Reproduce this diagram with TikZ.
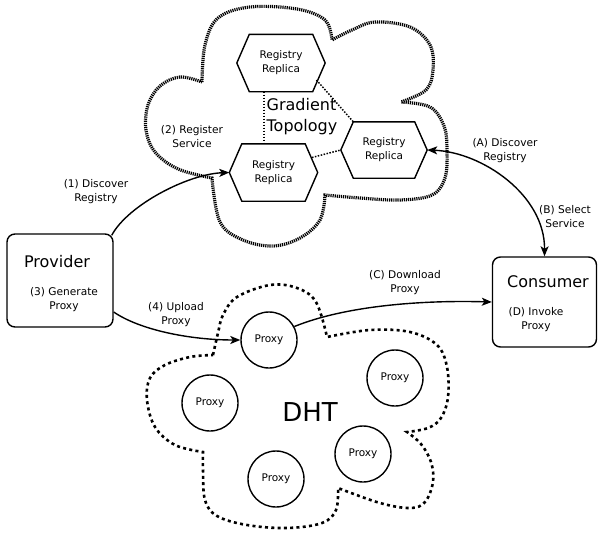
\documentclass[tikz,border=0pt]{standalone}
\usepackage{fontspec}
\setmainfont{DejaVu Sans}
\usetikzlibrary{arrows.meta,calc}
\begin{document}
\begin{tikzpicture}[x=1pt,y=-1pt,
  >={Stealth[length=10pt,width=8pt,inset=2.5pt]},
  lbl/.style={align=center, font=\fontsize{10.6}{14}\selectfont, inner sep=0},
  big/.style={align=left, font=\fontsize{16}{21}\selectfont, inner sep=0},
  box/.style={draw, line width=1.4pt, rounded corners=8pt, minimum width=106pt, minimum height=93pt, inner sep=0},
  hexbox/.style={minimum width=88pt, minimum height=57pt, inner sep=0, align=center, font=\fontsize{10.5}{14}\selectfont},
  hexline/.style={line width=1.4pt, line join=miter},
  proxy/.style={draw, circle, line width=1.4pt, minimum size=56pt, inner sep=0, font=\fontsize{10.5}{13}\selectfont},
  arr/.style={line width=1.4pt},
  dotl/.style={line width=1.5pt, dash pattern=on 1.5pt off 1.5pt},
  gcloud/.style={line width=3.2pt, dash pattern=on 1.2pt off 0.9pt},
  dcloud/.style={line width=2.6pt, dash pattern=on 3pt off 3.3pt},
]
\useasboundingbox (0,0) rectangle (598,533);

% Gradient topology cloud
\draw[gcloud] plot[smooth, tension=0.6] coordinates {(202,82) (205,45) (218,18) (250,7) (297,9) (325,20) (332,40)}
 -- plot[smooth, tension=0.6] coordinates {(332,40) (352,30) (375,22) (410,27) (430,45) (433,70) (426,90) (401,102)}
 -- plot[smooth, tension=0.6] coordinates {(401,102) (430,107) (444,126) (447,150) (445,178) (432,195) (400,200) (360,198) (325,195)}
 -- plot[smooth, tension=0.6] coordinates {(325,195) (320,220) (300,238) (273,246) (243,240) (220,222) (212,178)}
 -- plot[smooth, tension=0.6] coordinates {(212,178) (178,169) (155,152) (146,130) (148,105) (160,86) (180,77) (202,82)};

% DHT cloud
\draw[dcloud] plot[smooth, tension=0.6] coordinates {(213,355) (218,333) (223,315) (237,297) (270,285) (297,288) (316,302) (327,337)}
 -- plot[smooth, tension=0.6] coordinates {(327,337) (370,330) (410,332) (437,345) (447,367) (448,397) (441,418) (428,428) (407,432)}
 -- plot[smooth, tension=0.6] coordinates {(407,432) (421,444) (431,462) (433,482) (425,502) (410,508) (380,503) (338,488)}
 -- plot[smooth, tension=0.6] coordinates {(338,488) (336,510) (322,523) (287,528) (247,525) (217,516) (205,500) (203,470) (203,452)}
 -- plot[smooth, tension=0.6] coordinates {(203,452) (175,445) (155,427) (147,400) (150,378) (165,365) (190,357) (213,355)};

% Registry replicas
\node[hexbox] (r1) at (281,63) {Registry\\Replica};
\node[hexbox] (r2) at (273.5,172.5) {Registry\\Replica};
\node[hexbox, minimum width=86pt, minimum height=56pt] (r3) at (384,150) {Registry\\Replica};
\foreach \n in {r1,r2,r3}
  \draw[hexline] (\n.west) -- ($(\n.north west)+(12.5,0)$) -- ($(\n.north east)+(-12.5,0)$) -- (\n.east)
    -- ($(\n.south east)+(-12.5,0)$) -- ($(\n.south west)+(12.5,0)$) -- cycle;

\draw[dotl] ($(r1.south)+(-17,0)$) -- ($(r2.north)+(-9.5,0)$);
\draw[dotl] ($(r1.center)+(35.5,17)$) -- ($(r3.north west)+(12.5,0)$);
\draw[dotl] ($(r2.center)+(38.5,-15)$) -- (r3.west);

\node[big] (gt) at (302,117) {Gradient\\Topology};

% Proxies
\node[proxy] (p1) at (269,340) {Proxy};
\node[proxy] (p2) at (210,403) {Proxy};
\node[proxy] (p3) at (276,479) {Proxy};
\node[proxy] (p4) at (363,454) {Proxy};
\node[proxy] (p5) at (395,378) {Proxy};
\node[font=\fontsize{26}{30}\selectfont, inner sep=0] (dht) at (310,412) {DHT};

% Provider and consumer
\node[box] (prov) at (60,280.5) {};
\node[big] (provt) at (57,262) {Provider};
\node[lbl] (gen) at (64,299.5) {(3) Generate\\Proxy};
\node[box, minimum width=104pt, minimum height=90pt] (cons) at (544.5,302) {};
\node[big] (const) at (548,282) {Consumer};
\node[lbl] (inv) at (536,319.5) {(D) Invoke\\Proxy};

% Connectors
\draw[arr,->] ($(prov.north east)+(-2,2)$) .. controls (128,205) and (188,174) .. (r2.west);
\draw[arr,->] ($(prov.east)+(0,31.5)$) .. controls (140,330) and (190,340) .. (p1.west);
\draw[arr,->] (p1.28) .. controls (345,306) and (420,300) .. (cons.west);
\draw[arr,<->] (r3.east) .. controls (482,152) and (545,195) .. (cons.north);

% Labels
\node[lbl] (l1) at (96,191.5) {(1) Discover\\Registry};
\node[lbl] (l2) at (192,137) {(2) Register\\Service};
\node[lbl] (la) at (505,151) {(A) Discover\\Registry};
\node[lbl] (lb) at (565,216.5) {(B) Select\\Service};
\node[lbl] (lc) at (405,282.5) {(C) Download\\Proxy};
\node[lbl] (l4) at (176,314.5) {(4) Upload\\Proxy};
\end{tikzpicture}
\end{document}
